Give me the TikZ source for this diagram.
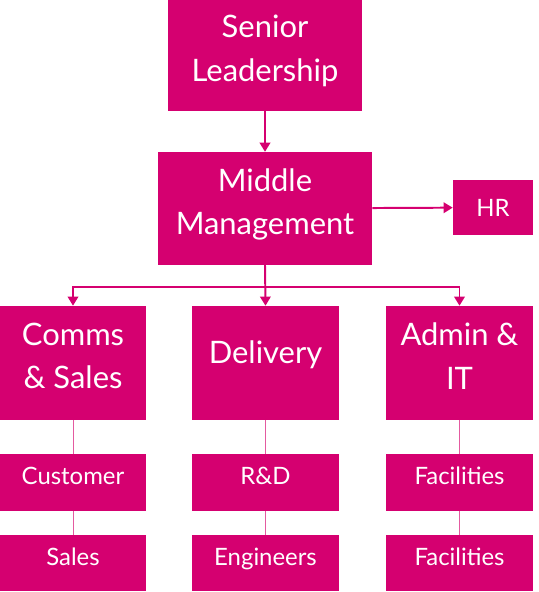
\documentclass[tikz,border=0pt]{standalone}
\usepackage{fontspec}
\setmainfont{Lato}
\usepackage{xcolor}
\usepackage{tikz}
\usetikzlibrary{arrows.meta, positioning, calc}
\definecolor{orgpink}{RGB}{213, 0, 112}
\definecolor{linkpink}{RGB}{228, 90, 160}

\begin{document}
\begin{tikzpicture}[
    x=0.025cm, y=-0.025cm,
    bigbox/.style={fill=orgpink, text=white, align=center, inner sep=0pt,
                   text depth=10pt, font=\fontsize{22}{31}\selectfont},
    smallbox/.style={fill=orgpink, text=white, align=center, inner sep=0pt,
                     text depth=9pt, minimum height=1.4cm,
                     font=\fontsize{17}{20}\selectfont},
    arrow/.style={-{Triangle[length=6.5pt, width=7.5pt]}, line width=1.4pt, orgpink},
    link/.style={line width=0.7pt, linkpink}
]
    \useasboundingbox (0,0) rectangle (539,592);

    % Top levels
    \node[bigbox, minimum width=4.85cm, minimum height=2.78cm] (senior) at (265,55.5)
        {Senior\\Leadership};
    \node[bigbox, minimum width=5.35cm, minimum height=2.82cm] (middle) at (265,208.5)
        {Middle\\Management};
    \node[smallbox, text depth=0pt, minimum width=2cm, minimum height=1.38cm] (hr)
        at (493,207.5) {HR};

    % Departments
    \node[bigbox, minimum width=3.65cm, minimum height=2.85cm] (comms) at (73,363)
        {Comms\\\& Sales};
    \node[bigbox, text depth=16pt, minimum width=3.67cm, minimum height=2.85cm] (delivery)
        at (265.5,363) {Delivery};
    \node[bigbox, minimum width=3.67cm, minimum height=2.85cm] (admin) at (459.5,363)
        {Admin \&\\IT};

    % Teams
    \node[smallbox, minimum width=3.65cm] (customer) at (73,482.5) {Customer};
    \node[smallbox, minimum width=3.65cm] (sales) at (73,563) {Sales};
    \node[smallbox, minimum width=3.67cm] (rnd) at (265.5,482.5) {R\&D};
    \node[smallbox, minimum width=3.67cm] (engineers) at (265.5,563) {Engineers};
    \node[smallbox, minimum width=3.67cm] (facilA) at (459.5,482.5) {Facilities};
    \node[smallbox, minimum width=3.67cm] (facilB) at (459.5,563) {Facilities};

    % Arrows
    \coordinate (split) at (265,287);
    \draw[arrow] (senior) -- (middle);
    \draw[arrow] (middle) -- (hr);
    \draw[arrow] (middle.south) -- (delivery.north);
    \draw[arrow] (split) -| (comms.north);
    \draw[arrow] (split) -| (admin.north);

    % Lines
    \draw[link] (comms) -- (customer);
    \draw[link] (customer) -- (sales);
    \draw[link] (delivery) -- (rnd);
    \draw[link] (rnd) -- (engineers);
    \draw[link] (admin) -- (facilA);
    \draw[link] (facilA) -- (facilB);
\end{tikzpicture}
\end{document}
